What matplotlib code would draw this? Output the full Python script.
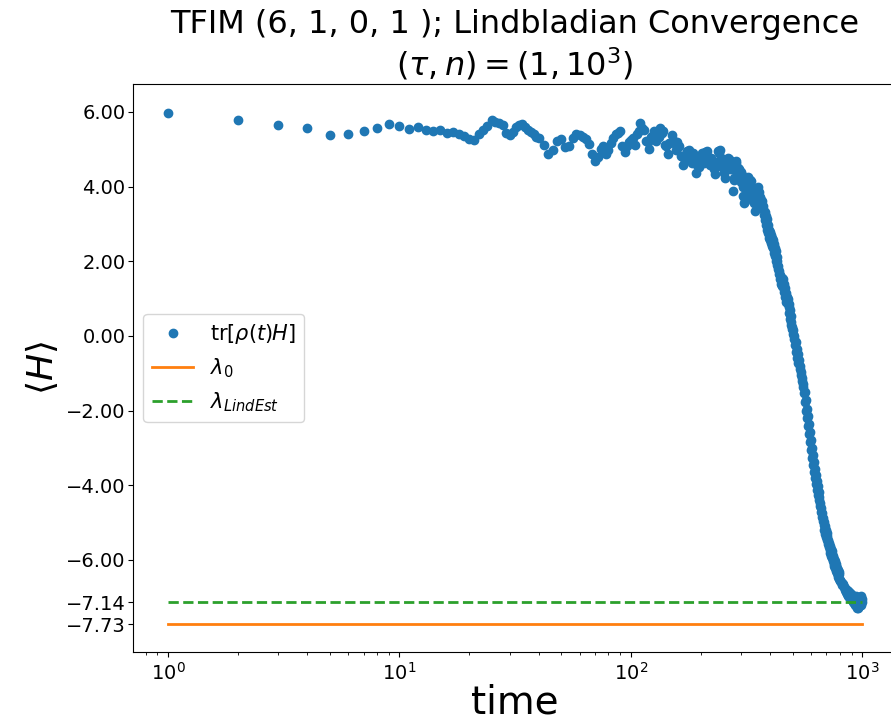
import numpy as np
import matplotlib
matplotlib.use("Agg")
import matplotlib.pyplot as plt
from matplotlib.ticker import FuncFormatter

# energies from the plot
lambda_0 = -7.73
lambda_est = -7.14

# time samples (denser where the dots overlap)
t_early = np.arange(1, 41)
t_mid = np.arange(42, 101, 2)
t_late = np.arange(102, 301, 2)
t_fall = np.arange(302, 501, 2)
t_drop = np.arange(503, 801, 3)
t_end = np.arange(805, 1001, 5)

# tr[rho(t) H]
h_early = [5.96, 5.79, 5.66, 5.56, 5.38, 5.42, 5.49, 5.57, 5.68, 5.62,
           5.54, 5.60, 5.52, 5.49, 5.53, 5.43, 5.47, 5.41, 5.35, 5.27,
           5.25, 5.40, 5.52, 5.62, 5.78, 5.74, 5.70, 5.64, 5.45, 5.38,
           5.47, 5.60, 5.66, 5.68, 5.60, 5.52, 5.46, 5.40, 5.34, 5.29]
h_mid = [5.12, 4.88, 4.98, 5.22, 5.28, 5.05, 5.08, 5.30, 5.42, 5.38,
         5.32, 5.28, 5.15, 4.88, 4.68, 4.80, 5.00, 5.08, 4.88, 4.98,
         5.18, 5.30, 5.40, 5.45, 5.50, 5.10, 4.92, 5.10, 5.20, 5.25]
h_late = [5.30, 5.12, 5.42, 5.48, 5.70, 5.56, 5.52, 5.22, 5.20, 5.00,
          5.33, 5.37, 5.48, 5.22, 5.43, 5.34, 5.58, 5.44, 5.48, 5.12,
          5.08, 4.87, 5.18, 5.17, 5.38, 5.20, 5.23, 4.97, 5.20, 5.07,
          5.08, 4.82, 4.83, 4.57, 4.78, 4.72, 4.96, 4.87, 4.98, 4.77,
          4.86, 4.62, 4.90, 4.82, 4.73, 4.37, 4.58, 4.52, 4.76, 4.67,
          4.90, 4.77, 4.86, 4.62, 4.93, 4.87, 4.96, 4.72, 4.78, 4.57,
          4.78, 4.67, 4.70, 4.47, 4.56, 4.34, 4.63, 4.62, 4.96, 4.90,
          4.98, 4.72, 4.78, 4.52, 4.60, 4.37, 4.46, 4.22, 4.53, 4.54,
          4.78, 4.67, 4.73, 4.47, 4.70, 4.62, 4.48, 3.87, 4.18, 4.22,
          4.63, 4.62, 4.68, 4.42, 4.50, 4.27, 4.46, 4.32, 4.38, 4.12]
h_fall = [4.30, 4.00, 3.75, 3.55, 3.75, 3.62, 3.95, 3.80, 4.15, 3.98,
          4.25, 4.02, 4.18, 3.92, 4.15, 3.88, 3.95, 3.70, 3.82, 3.55,
          3.62, 3.35, 3.55, 3.62, 3.85, 3.75, 4.00, 3.80, 3.85, 3.60,
          3.72, 3.50, 3.65, 3.45, 3.62, 3.40, 3.48, 3.25, 3.32, 3.10,
          3.22, 2.98, 3.12, 2.85, 2.98, 2.75, 2.85, 2.62, 2.78, 2.58,
          2.70, 2.48, 2.62, 2.42, 2.58, 2.35, 2.45, 2.22, 2.35, 2.15,
          2.28, 2.02, 2.12, 1.90, 2.02, 1.78, 1.88, 1.65, 1.75, 1.52,
          1.62, 1.38, 1.55, 1.35, 1.55, 1.38, 1.52, 1.32, 1.40, 1.18,
          1.28, 1.05, 1.15, 0.92, 1.08, 0.90, 1.05, 0.85, 0.98, 0.78,
          0.85, 0.62, 0.70, 0.45, 0.52, 0.30, 0.38, 0.18, 0.25, 0.05]
h_drop = [0.15, -0.09, -0.01, -0.25, -0.17, -0.42, -0.34, -0.58, -0.49, -0.73,
          -0.65, -0.89, -0.80, -1.04, -0.96, -1.21, -1.13, -1.37, -1.29, -1.53,
          -1.49, -1.77, -1.73, -2.00, -1.95, -2.21, -2.15, -2.41, -2.35, -2.62,
          -2.57, -2.84, -2.79, -3.06, -3.00, -3.26, -3.19, -3.45, -3.38, -3.64,
          -3.57, -3.81, -3.73, -3.96, -3.88, -4.12, -4.03, -4.27, -4.18, -4.41,
          -4.33, -4.56, -4.47, -4.71, -4.62, -4.85, -4.75, -4.97, -4.87, -5.08,
          -4.98, -5.20, -5.09, -5.30, -5.19, -5.39, -5.28, -5.48, -5.37, -5.58,
          -5.46, -5.66, -5.54, -5.74, -5.62, -5.82, -5.70, -5.89, -5.77, -5.96,
          -5.84, -6.03, -5.91, -6.10, -5.97, -6.17, -6.04, -6.23, -6.10, -6.29,
          -6.16, -6.35, -6.22, -6.40, -6.27, -6.46, -6.33, -6.52, -6.39, -6.58]
h_end = [-6.54, -6.60, -6.62, -6.68, -6.66, -6.74, -6.72, -6.80, -6.76, -6.86,
         -6.80, -6.92, -6.84, -6.96, -6.86, -7.00, -6.90, -7.05, -6.92, -7.08,
         -6.95, -7.12, -6.98, -7.16, -7.00, -7.20, -6.98, -7.22, -7.02, -7.28,
         -7.05, -7.30, -7.02, -7.25, -7.00, -7.20, -6.98, -7.22, -7.05, -7.14]

times = np.concatenate([t_early, t_mid, t_late, t_fall, t_drop, t_end])
energy = np.array(h_early + h_mid + h_late + h_fall + h_drop + h_end)

fig = plt.figure(figsize=(8.91, 7.25), dpi=100)
ax = fig.add_axes([133 / 891, 73 / 725, 764 / 891, 568 / 725])

ax.plot(times, energy, 'o', color='C0', markersize=6, label=r'tr$[\rho(t)H]$')
ax.plot([times[0], times[-1]], [lambda_0, lambda_0], '-', color='C1', lw=2, label=r'$\lambda_0$')
ax.plot([times[0], times[-1]], [lambda_est, lambda_est], '--', color='C2', lw=2,
        label=r'$\lambda_{LindEst}$')

ax.set_xscale('log')
ax.set_xlim(10 ** -0.1515, 10 ** 3.15)
ax.set_ylim(-8.47, 6.75)
ax.set_yticks([6, 4, 2, 0, -2, -4, -6, lambda_est, lambda_0])
ax.yaxis.set_major_formatter(FuncFormatter(lambda v, p: f'{v:.2f}'.replace('-', '\u2212')))
ax.tick_params(axis='both', labelsize=14)
ax.tick_params(axis='y', pad=2)

ax.set_xlabel('time', fontsize=28, labelpad=0)
ax.set_ylabel(r'$\langle H \rangle$', fontsize=26)
ax.set_title('TFIM (6, 1, 0, 1 ); Lindbladian Convergence\n' + r'$(\tau, n) = (1, 10^3)$',
             fontsize=23)
ax.legend(loc='center left', fontsize=15)

fig.savefig('out.png', dpi=100)
